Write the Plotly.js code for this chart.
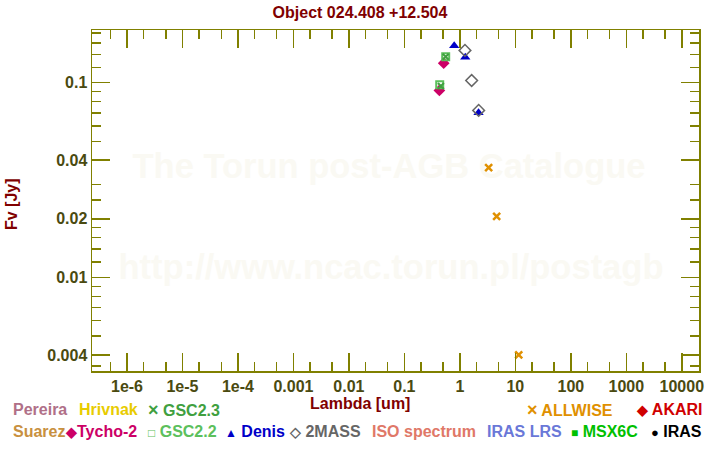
<!DOCTYPE html>
<html>
<head>
<meta charset="utf-8">
<script src="https://cdn.plot.ly/plotly-3.0.1.min.js"></script>
<style>html,body{margin:0;padding:0;background:#fff;}#chart{width:720px;height:450px;}</style>
</head>
<body>
<div id="chart"></div>
<script>
// ---- data (wavelength in um, flux in Jy) ----
const denisLambda = [0.79, 1.25, 2.17];
const denisFlux = [0.155, 0.135, 0.0702];
const twomassLambda = [1.235, 1.63, 2.18];
const twomassFlux = [0.1466, 0.1027, 0.0721];
const tychoLambda = [0.511, 0.427];
const tychoFlux = [0.126, 0.0913];
const gsc22Lambda = [0.555, 0.433];
const gsc22Flux = [0.136, 0.0977];
const gsc23Lambda = [0.555, 0.455];
const gsc23Flux = [0.136, 0.0963];
const allwiseLambda = [3.30, 4.60, 11.5];
const allwiseFlux = [0.0366, 0.0206, 0.0040];

const xTickVals = [1e-6, 1e-5, 1e-4, 1e-3, 1e-2, 0.1, 1, 10, 100, 1000, 10000];
const xTickText = ["1e-6", "1e-5", "1e-4", "0.001", "0.01", "0.1", "1", "10", "100", "1000", "10000"];
const yTickVals = [0.004, 0.01, 0.02, 0.04, 0.1];
const yTickText = ["0.004", "0.01", "0.02", "0.04", "0.1"];
const yMinorVals = [0.0035, 0.005, 0.006, 0.007, 0.008, 0.009, 0.012, 0.014, 0.016, 0.018, 0.025, 0.03, 0.05, 0.06, 0.07, 0.08, 0.09, 0.12, 0.14, 0.16, 0.18];

const xMinorVals = [];
for (let e = -7; e <= 4; e++) { xMinorVals.push(2 * Math.pow(10, e), 5 * Math.pow(10, e)); }

const titleText = "Object 024.408 +12.504";
const xTitle = "Lambda [um]";
const yTitle = "Fv [Jy]";
const watermark1 = "The Torun post-AGB Catalogue";
const watermark2 = "http://www.ncac.torun.pl/postagb";

// ---- styling ----
const FONT = "Arial, 'Liberation Sans', sans-serif";
const OLIVE = "#808000";
const TICKC = "#4a4a10";
const DARKRED = "#800000";

const traces = [
  {x: denisLambda, y: denisFlux, name: "Denis", mode: "markers", type: "scatter",
   marker: {symbol: "triangle-up", size: 9, color: "#0000c8"}},
  {x: twomassLambda, y: twomassFlux, name: "2MASS", mode: "markers", type: "scatter",
   marker: {symbol: "diamond-open", size: 9, color: "#666666", line: {width: 1.5}}},
  {x: tychoLambda, y: tychoFlux, name: "Tycho-2", mode: "markers", type: "scatter",
   marker: {symbol: "diamond", size: 9, color: "#cc0066"}},
  {x: gsc22Lambda, y: gsc22Flux, name: "GSC2.2", mode: "markers", type: "scatter",
   marker: {symbol: "square-open", size: 7, color: "#5cc05c", line: {width: 2}}},
  {x: gsc23Lambda, y: gsc23Flux, name: "GSC2.3", mode: "markers", type: "scatter",
   marker: {symbol: "x-thin-open", size: 6, color: "#40a040", line: {width: 2, color: "#40a040"}}},
  {x: allwiseLambda, y: allwiseFlux, name: "ALLWISE", mode: "markers", type: "scatter",
   marker: {symbol: "x-thin-open", size: 7, color: "#e09000", line: {width: 2.5, color: "#e09000"}}}
];

const W = 720, H = 450;
const M = {l: 92, r: 21, t: 30, b: 79};
const PW = W - M.l - M.r, PH = H - M.t - M.b;
const px = x => (x - M.l) / PW;
const py = y => (H - M.b - y) / PH;

const legendItems = [
  {t: "Pereira", c: "#b07088", x: 11, y: 410},
  {t: "Hrivnak", c: "#e8cc00", x: 77, y: 410},
  {t: "<span style='font-size:18px'>×</span> GSC2.3", c: "#40a040", x: 146, y: 410},
  {t: "<span style='font-size:18px'>×</span> ALLWISE", c: "#e09000", x: 525, y: 410},
  {t: "<span style='font-size:14px'>◆</span> AKARI", c: "#d00000", x: 634, y: 410},
  {t: "Suarez", c: "#c89040", x: 11, y: 431},
  {t: "<span style='font-size:14px'>◆</span>Tycho-2", c: "#cc0066", x: 63, y: 431},
  {t: "<span style='font-size:12px'>□</span> GSC2.2", c: "#5cc05c", x: 146, y: 431},
  {t: "<span style='font-size:12px'>▲</span> Denis", c: "#0000c8", x: 223, y: 431},
  {t: "<span style='font-size:14px'>◇</span> 2MASS", c: "#666666", x: 287, y: 431},
  {t: "ISO spectrum", c: "#e07868", x: 370, y: 431},
  {t: "IRAS LRS", c: "#6a78d8", x: 485, y: 431},
  {t: "<span style='font-size:12px'>■</span> MSX6C", c: "#00c000", x: 569, y: 431},
  {t: "<span style='font-size:13px'>●</span> IRAS", c: "#000000", x: 649, y: 431}
];

const annotations = legendItems.map(it => ({
  text: it.t, x: px(it.x), y: py(it.y), xref: "paper", yref: "paper",
  xanchor: "left", yanchor: "middle", showarrow: false,
  font: {family: FONT, size: 16, color: it.c, weight: "bold"}
}));
annotations.push(
  {text: "<b>" + xTitle + "</b>", x: px(360), y: py(404), xref: "paper", yref: "paper",
   xanchor: "center", yanchor: "middle", showarrow: false, font: {family: FONT, size: 16, color: DARKRED}},
  {text: "<b>" + yTitle + "</b>", x: px(11), y: py(204), xref: "paper", yref: "paper",
   xanchor: "center", yanchor: "middle", showarrow: false, textangle: -90, font: {family: FONT, size: 16, color: DARKRED}}
);

// watermark as shape labels drawn below the data
const wm = (txt, cx, cy) => ({
  type: "rect", xref: "paper", yref: "paper", layer: "below",
  x0: px(cx - 300), x1: px(cx + 300), y0: py(cy + 20), y1: py(cy - 20),
  line: {width: 0}, fillcolor: "rgba(0,0,0,0)",
  label: {text: txt, textposition: "middle center",
          font: {family: FONT, size: 34.5, color: "#faf9f3", weight: "bold"}}
});

const axisCommon = {
  type: "log", showgrid: false, zeroline: false, showline: true, linecolor: OLIVE, linewidth: 1.5,
  mirror: "allticks", ticks: "inside", ticklen: 18, tickwidth: 1.5, tickcolor: OLIVE,
  tickmode: "array", tickfont: {family: FONT, size: 16, color: TICKC, weight: "bold"}
};

const layout = {
  width: W, height: H,
  margin: {l: M.l, r: M.r, t: M.t, b: M.b, pad: 0},
  paper_bgcolor: "#ffffff", plot_bgcolor: "rgba(0,0,0,0)",
  showlegend: false,
  title: {text: "<b>" + titleText + "</b>", x: 0.5, xanchor: "center", y: 1 - 12 / H, yanchor: "middle",
          font: {family: FONT, size: 16, color: DARKRED}},
  xaxis: Object.assign({}, axisCommon, {
    range: [-6.631, 4.310], tickvals: xTickVals, ticktext: xTickText,
    minor: {tickmode: "array", tickvals: xMinorVals, ticks: "inside", ticklen: 9, tickwidth: 1.5, tickcolor: OLIVE, showgrid: false}
  }),
  yaxis: Object.assign({}, axisCommon, {
    range: [-2.4805, -0.7292], tickvals: yTickVals, ticktext: yTickText,
    minor: {tickmode: "array", tickvals: yMinorVals, ticks: "inside", ticklen: 9, tickwidth: 1.5, tickcolor: OLIVE, showgrid: false}
  }),
  shapes: [wm(watermark1, 389, 162), wm(watermark2, 391, 263)],
  annotations: annotations
};

Plotly.newPlot("chart", traces, layout, {staticPlot: true, displayModeBar: false});
</script>
</body>
</html>
